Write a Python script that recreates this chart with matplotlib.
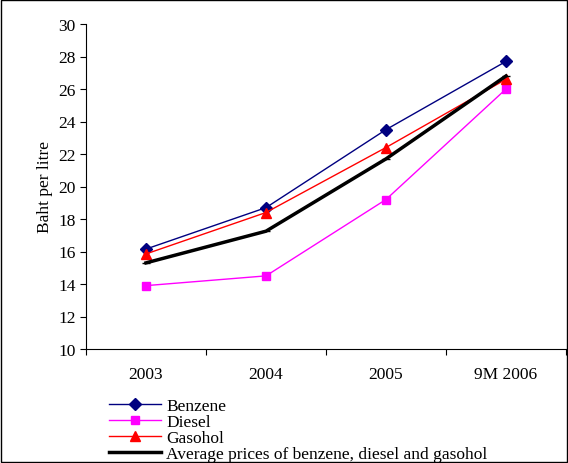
import matplotlib
matplotlib.use('Agg')
from matplotlib import pyplot as plt
from matplotlib.patches import Rectangle

plt.rcParams['font.family'] = ['Liberation Serif', 'DejaVu Serif']

years = ['2003', '2004', '2005', '9M 2006']
benzene = [16.15, 18.7, 23.5, 27.7]
diesel = [13.9, 14.5, 19.2, 26.0]
gasohol = [15.85, 18.4, 22.4, 26.6]
average = [15.3, 17.25, 21.7, 26.8]

fig = plt.figure(figsize=(5.68, 4.64), dpi=100)
ax = fig.add_axes([86 / 568, 1 - 350 / 464, 480 / 568, 325 / 464])
x = range(len(years))
ax.plot(x, benzene, color='#000080', marker='D', markersize=6, lw=1, label='Benzene')
ax.plot(x, diesel, color='#ff00ff', marker='s', markersize=6, lw=1, label='Diesel')
ax.plot(x, gasohol, color='red', marker='^', markersize=7, lw=1, label='Gasohol')
ax.plot(x, average, color='black', lw=2.5, marker='_', markersize=6,
        label='Average prices of benzene, diesel and gasohol')
ax.set_xlim(-0.5, 3.5)
ax.set_ylim(10, 30)
ax.set_yticks(range(10, 31, 2))
ax.set_xticks([-0.5, 0.5, 1.5, 2.5, 3.5])
ax.set_xticklabels([])
ax.set_xticks(list(x), minor=True)
ax.set_xticklabels(years, minor=True)
ax.tick_params(labelsize=12.5, direction='out', length=4)
ax.tick_params(axis='x', which='minor', length=0, pad=12, labelsize=12.5)
ax.spines['top'].set_visible(False)
ax.spines['right'].set_visible(False)
ax.set_ylabel('Baht per litre', fontsize=12.5)
ax.legend(loc='upper left', bbox_to_anchor=(100 / 568, 1 - 390 / 464),
          bbox_transform=fig.transFigure, frameon=False, fontsize=12.5,
          handlelength=3, labelspacing=0.0, borderpad=0, handletextpad=0.3)
fig.patches.append(Rectangle((0.002, 0.002), 0.996, 0.996, transform=fig.transFigure,
                             fill=False, edgecolor='black', lw=1))
fig.savefig('out.png', dpi=100)
